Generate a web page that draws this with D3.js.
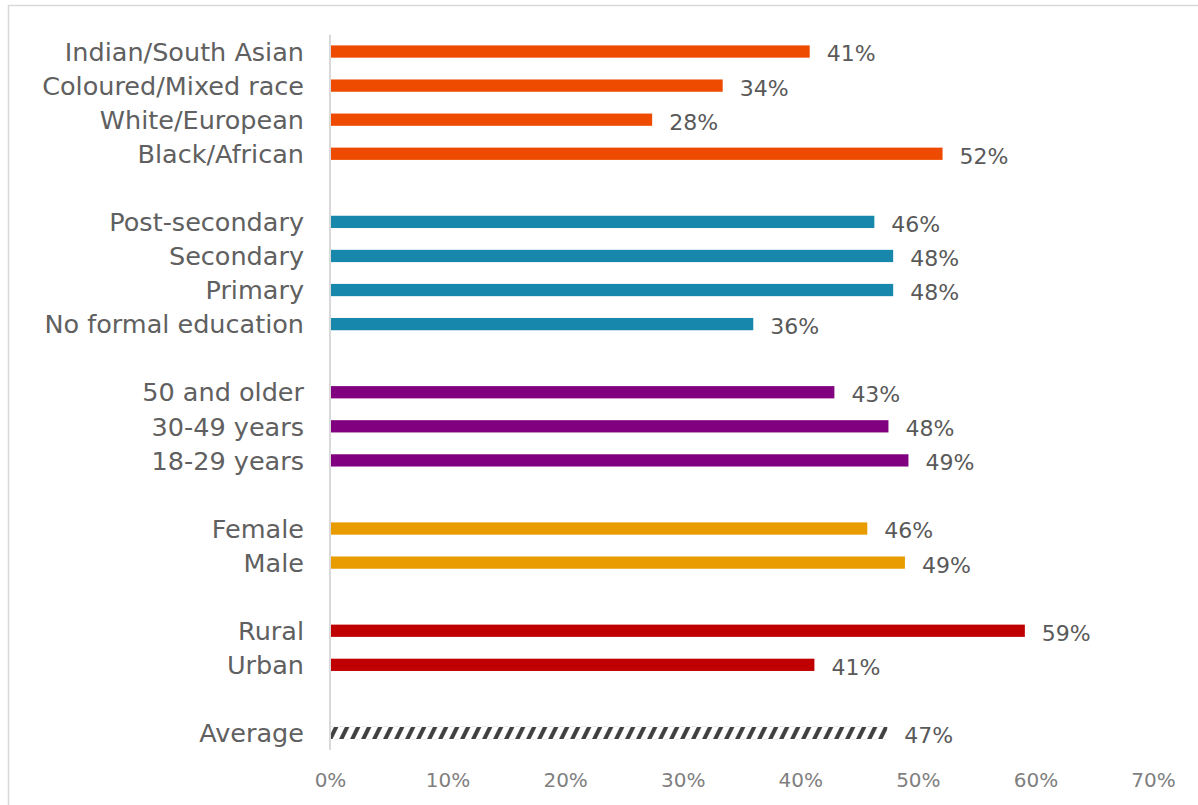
<!DOCTYPE html>
<html>
<head>
<meta charset="utf-8">
<script src="https://cdn.jsdelivr.net/npm/d3@7"></script>
<style>
  html, body { margin: 0; padding: 0; background: #fff; }
  svg { display: block; }
</style>
</head>
<body>
<script>
let width = 1198;
let height = 805;

// rows from top to bottom, blanks ("") are group gaps
let categories = [
  "Indian/South Asian", "Coloured/Mixed race", "White/European", "Black/African", "",
  "Post-secondary", "Secondary", "Primary", "No formal education", " ",
  "50 and older", "30-49 years", "18-29 years", "  ",
  "Female", "Male", "   ",
  "Rural", "Urban", "    ",
  "Average"
];
let values = [
  40.8, 33.4, 27.4, 52.1, null,
  46.3, 47.9, 47.9, 36.0, null,
  42.9, 47.5, 49.2, null,
  45.7, 48.9, null,
  59.1, 41.2, null,
  47.4
];
let labels = [
  "41%", "34%", "28%", "52%", "",
  "46%", "48%", "48%", "36%", "",
  "43%", "48%", "49%", "",
  "46%", "49%", "",
  "59%", "41%", "",
  "47%"
];
let groups = [
  "race", "race", "race", "race", "",
  "edu", "edu", "edu", "edu", "",
  "age", "age", "age", "",
  "sex", "sex", "",
  "area", "area", "",
  "avg"
];
let groupColors = {race: "#EE4A00", edu: "#1787AC", age: "#800080", sex: "#E89C00", area: "#C00000", avg: "url(#hatch)"};
let xTicks = [0, 10, 20, 30, 40, 50, 60, 70];

let font = "'DejaVu Sans', sans-serif";

let svg = d3.select("body").append("svg")
  .attr("width", width)
  .attr("height", height);

// outer frame
svg.append("rect")
  .attr("x", 8.5).attr("y", 5.5)
  .attr("width", width + 20).attr("height", height + 20)
  .attr("fill", "none").attr("stroke", "#d9d9d9").attr("stroke-width", 1.5);

let x = d3.scaleLinear().domain([0, 70]).range([330, 1153]);
let y = d3.scaleBand().domain(categories).range([34.5, 750]).paddingInner(0.64).paddingOuter(0.32);

let rows = categories.map((c, i) => ({cat: c, value: values[i], label: labels[i], group: groups[i]}));
let bars = rows.filter(d => d.value !== null);

// hatch for the average bar
let avgRow = bars.find(d => d.group === "avg");
let defs = svg.append("defs");
let bh = y.bandwidth();
let pat = defs.append("pattern")
  .attr("id", "hatch")
  .attr("patternUnits", "userSpaceOnUse")
  .attr("x", x(0) - 2).attr("y", y(avgRow.cat))
  .attr("width", 11).attr("height", bh);
pat.append("rect").attr("width", 11).attr("height", bh).attr("fill", "#fff");
pat.append("path")
  .attr("d", `M0,${bh} L4.5,${bh} L10.5,0 L6,0 Z M-11,${bh} L-6.5,${bh} L-0.5,0 L-5,0 Z M11,${bh} L15.5,${bh} L21.5,0 L17,0 Z`)
  .attr("fill", "#404040");

// vertical axis line
svg.append("line")
  .attr("x1", x(0)).attr("x2", x(0))
  .attr("y1", 34.5).attr("y2", 750)
  .attr("stroke", "#d9d9d9").attr("stroke-width", 2);

svg.selectAll(".bar").data(bars).enter().append("rect")
  .attr("class", "bar")
  .attr("x", x(0) + 1)
  .attr("y", d => y(d.cat))
  .attr("width", d => x(d.value) - x(0) - 1)
  .attr("height", bh)
  .attr("fill", d => groupColors[d.group]);

svg.selectAll(".cat").data(bars).enter().append("text")
  .attr("class", "cat")
  .attr("x", 304)
  .attr("y", d => y(d.cat) + bh / 2)
  .attr("dy", "0.36em")
  .attr("text-anchor", "end")
  .attr("font-family", font)
  .attr("font-size", 25.5)
  .attr("fill", "#606060")
  .text(d => d.cat);

svg.selectAll(".val").data(bars).enter().append("text")
  .attr("class", "val")
  .attr("x", d => x(d.value) + 17)
  .attr("y", d => y(d.cat) + bh / 2)
  .attr("dy", "0.45em")
  .attr("font-family", font)
  .attr("font-size", 22)
  .attr("fill", "#595959")
  .text(d => d.label);

let xAxis = svg.append("g")
  .attr("transform", "translate(0,780)")
  .call(d3.axisBottom(x).tickValues(xTicks).tickSize(0).tickPadding(0).tickFormat(d => d + "%"));
xAxis.select(".domain").remove();
xAxis.selectAll("text")
  .attr("dy", "0.35em")
  .attr("font-family", font)
  .attr("font-size", 20)
  .attr("fill", "#7f7f7f");
</script>
</body>
</html>
